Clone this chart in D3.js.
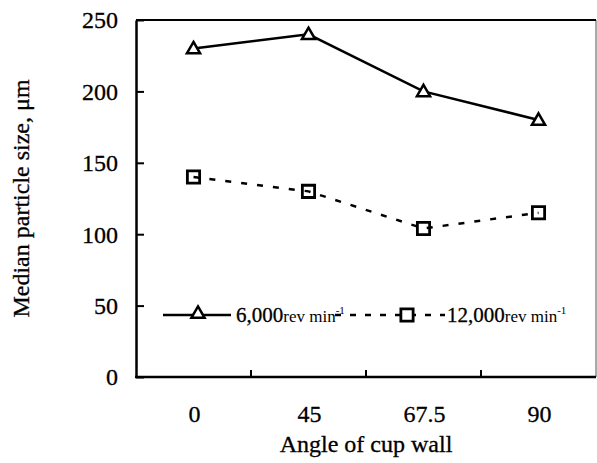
<!DOCTYPE html>
<html>
<head>
<meta charset="utf-8">
<script src="https://cdn.jsdelivr.net/npm/d3@7"></script>
<style>
  body { margin: 0; background: #fff; }
  text { font-family: "Liberation Serif", "Times New Roman", serif; fill: #000; stroke: #000; stroke-width: 0.3px; }
</style>
</head>
<body>
<svg id="chart" width="597" height="463"></svg>
<script>
// chart data
var angles = ['0', '45', '67.5', '90'];
var size6000 = [230, 240, 200, 180];
var size12000 = [140, 130, 104, 115];
var yTicks = [0, 50, 100, 150, 200, 250];

var margin = { top: 20, right: 1, bottom: 86, left: 136 };
var width = 597, height = 463;

var svg = d3.select('#chart');

var x = d3.scaleBand()
	.domain(angles)
	.range([margin.left, width - margin.right])
	.padding(0);

var y = d3.scaleLinear()
	.domain([0, 250])
	.range([height - margin.bottom, margin.top]);

var x0 = margin.left, x1 = width - margin.right;
var y0 = y(0), y1 = y(250);

// frame
svg.append('path')
	.attr('d', 'M' + x1 + ',' + y1 + 'V' + y0)
	.attr('stroke', '#555').attr('stroke-width', 1).attr('fill', 'none');
svg.append('path')
	.attr('d', 'M' + x0 + ',' + y1 + 'H' + x1)
	.attr('stroke', '#000').attr('stroke-width', 2).attr('fill', 'none');

// y axis, ticks pointing inward
var yAxis = svg.append('g')
	.attr('transform', 'translate(' + x0 + ',0)')
	.call(d3.axisLeft(y).tickValues(yTicks).tickSizeInner(-8).tickSizeOuter(0).tickPadding(18));
yAxis.select('.domain').attr('stroke-width', 2.5);
yAxis.selectAll('.tick line').attr('stroke-width', 2);
yAxis.selectAll('.tick text')
	.attr('font-size', 24)
	.attr('font-family', '"Liberation Serif", serif')
	.attr('dy', '0.33em');

// x axis: category labels centred, ticks at band boundaries
var xAxis = svg.append('g')
	.attr('transform', 'translate(0,' + y0 + ')');
xAxis.append('path')
	.attr('d', 'M' + (x0 - 1) + ',0H' + x1)
	.attr('stroke', '#000').attr('stroke-width', 2.5);
xAxis.selectAll('line.sep')
	.data(angles.slice(1))
	.enter().append('line')
	.attr('class', 'sep')
	.attr('x1', function(d) { return x(d); })
	.attr('x2', function(d) { return x(d); })
	.attr('y1', 0).attr('y2', -7)
	.attr('stroke', '#000').attr('stroke-width', 2);
xAxis.selectAll('text.lbl')
	.data(angles)
	.enter().append('text')
	.attr('class', 'lbl')
	.attr('x', function(d) { return x(d) + x.bandwidth() / 2 + 1; })
	.attr('y', 45)
	.attr('text-anchor', 'middle')
	.attr('font-size', 24)
	.text(function(d) { return d; });

// axis titles
svg.append('text')
	.attr('x', (x0 + x1) / 2 + 0)
	.attr('y', 452)
	.attr('text-anchor', 'middle')
	.attr('font-size', 24)
	.text('Angle of cup wall');

svg.append('text')
	.attr('transform', 'translate(29,' + ((y0 + y1) / 2) + ') rotate(-90)')
	.attr('text-anchor', 'middle')
	.attr('font-size', 24)
	.text('Median particle size, \u03bcm');

// series
var cx = function(d, i) { return x(angles[i]) + x.bandwidth() / 2; };

var line = d3.line()
	.x(cx)
	.y(function(d) { return y(d); });

var tri = d3.symbol().type(d3.symbolTriangle).size(75);
var sq = d3.symbol().type(d3.symbolSquare).size(150);

svg.append('path')
	.datum(size6000)
	.attr('d', line)
	.attr('fill', 'none').attr('stroke', '#000').attr('stroke-width', 2.5);

svg.append('path')
	.datum(size12000)
	.attr('d', line)
	.attr('fill', 'none').attr('stroke', '#000').attr('stroke-width', 2.5)
	.attr('stroke-dasharray', '6,10');

svg.selectAll('path.tri')
	.data(size6000)
	.enter().append('path')
	.attr('class', 'tri')
	.attr('d', tri)
	.attr('transform', function(d, i) { return 'translate(' + cx(d, i) + ',' + (y(d) + 1) + ')'; })
	.attr('fill', '#fff').attr('stroke', '#000').attr('stroke-width', 2.5);

svg.selectAll('path.sq')
	.data(size12000)
	.enter().append('path')
	.attr('class', 'sq')
	.attr('d', sq)
	.attr('transform', function(d, i) { return 'translate(' + cx(d, i) + ',' + y(d) + ')'; })
	.attr('fill', 'none').attr('stroke', '#000').attr('stroke-width', 2.8);

// legend
var ly = 315;
var leg = svg.append('g');
leg.append('line')
	.attr('x1', 163).attr('x2', 231).attr('y1', ly).attr('y2', ly)
	.attr('stroke', '#000').attr('stroke-width', 2.5);
leg.append('path')
	.attr('d', tri)
	.attr('transform', 'translate(198,' + (ly - 1) + ')')
	.attr('fill', '#fff').attr('stroke', '#000').attr('stroke-width', 2.5);
var t1 = leg.append('text').attr('x', 236).attr('y', ly + 7).attr('font-size', 21);
t1.append('tspan').text('6,000');
t1.append('tspan').attr('font-size', 17).attr('stroke-width', 0).text('rev min');
t1.append('tspan').attr('font-size', 11).attr('stroke-width', 0).attr('dy', -8).text('-1');

leg.append('line')
	.attr('x1', 335).attr('x2', 445).attr('y1', ly).attr('y2', ly)
	.attr('stroke', '#000').attr('stroke-width', 2.5)
	.attr('stroke-dasharray', '6,9');
leg.append('path')
	.attr('d', sq)
	.attr('transform', 'translate(407,' + ly + ')')
	.attr('fill', '#fff').attr('stroke', '#000').attr('stroke-width', 2.8);
var t2 = leg.append('text').attr('x', 447).attr('y', ly + 7).attr('font-size', 21);
t2.append('tspan').text('12,000');
t2.append('tspan').attr('font-size', 17).attr('stroke-width', 0).text('rev min');
t2.append('tspan').attr('font-size', 11).attr('stroke-width', 0).attr('dy', -8).text('-1');
</script>
</body>
</html>
